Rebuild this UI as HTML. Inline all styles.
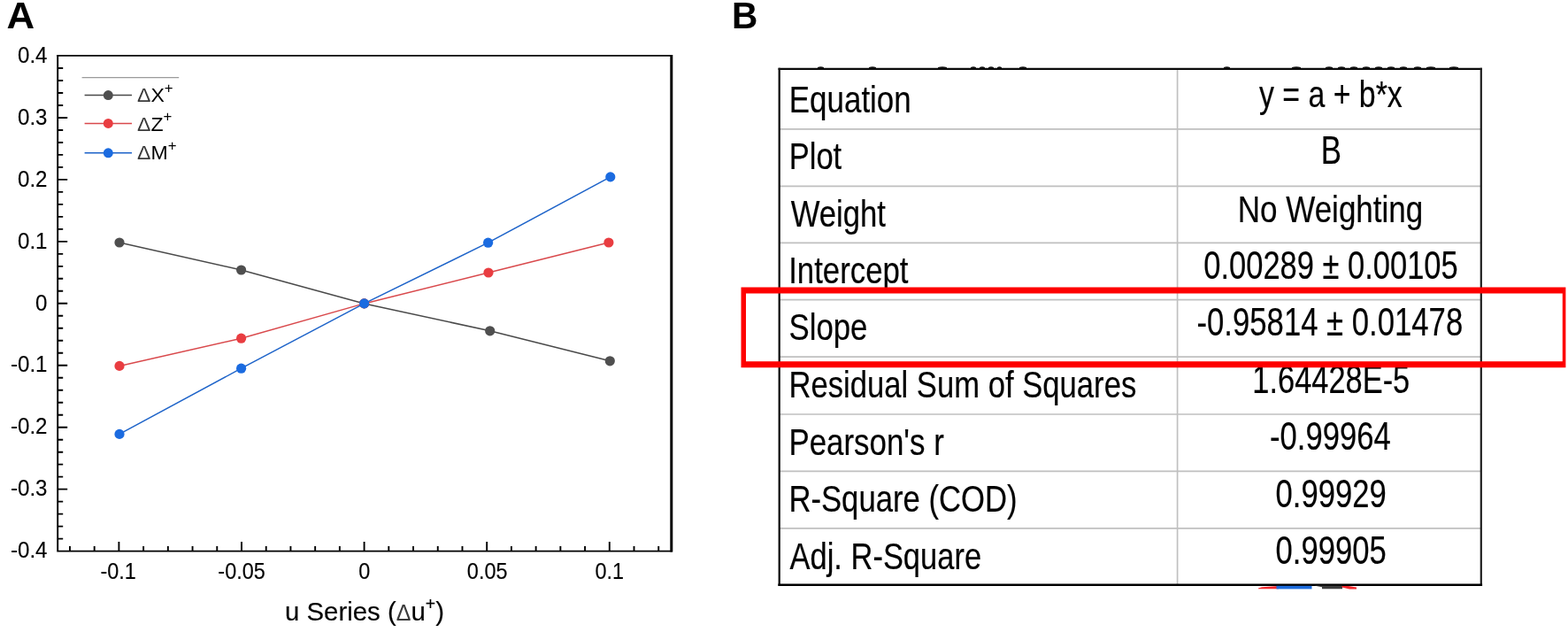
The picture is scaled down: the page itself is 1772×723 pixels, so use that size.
<!DOCTYPE html>
<html lang="en"><head><meta charset="utf-8"><title>Figure</title>
<style>html,body{margin:0;padding:0;background:#fff;}body{width:1772px;height:723px;overflow:hidden;}svg{display:block;}text{font-family:"Liberation Sans", Arial, Helvetica, sans-serif;fill:#000;}.bl{filter:blur(0.45px);}.bs{filter:blur(0.35px);}</style>
</head><body>
<svg width="1772" height="723" viewBox="0 0 1772 723">
<rect x="0" y="0" width="1772" height="723" fill="#fff"/>
<text transform="translate(7.6 31.8) scale(1.055 1.042)" font-size="41.5" font-weight="bold">A</text>
<text transform="translate(826.9 31.8) scale(0.99 1.053)" font-size="41" font-weight="bold">B</text>
<g stroke="#000" fill="none">
<path d="M65.20 62.90V622.60H758.80" stroke-width="1.9" stroke-linecap="square"/>
<path d="M65.20 62.90H758.80" stroke-width="1.9" stroke-linecap="square"/>
<path d="M758.80 61.95V623.55" stroke-width="3" stroke-linecap="butt"/>
<path d="M65.20 608.61h6M65.20 594.62h6M65.20 580.63h6M65.20 566.64h6M65.20 552.65h11M65.20 538.66h6M65.20 524.67h6M65.20 510.68h6M65.20 496.69h6M65.20 482.70h11M65.20 468.71h6M65.20 454.72h6M65.20 440.73h6M65.20 426.74h6M65.20 412.75h11M65.20 398.76h6M65.20 384.77h6M65.20 370.78h6M65.20 356.79h6M65.20 342.80h11M65.20 328.81h6M65.20 314.82h6M65.20 300.83h6M65.20 286.84h6M65.20 272.85h11M65.20 258.86h6M65.20 244.87h6M65.20 230.88h6M65.20 216.89h6M65.20 202.90h11M65.20 188.91h6M65.20 174.92h6M65.20 160.93h6M65.20 146.94h6M65.20 132.95h11M65.20 118.96h6M65.20 104.97h6M65.20 90.98h6M65.20 76.99h6M78.96 622.60v-5.5M106.68 622.60v-5.5M134.40 622.60v-10.5M162.12 622.60v-5.5M189.84 622.60v-5.5M217.56 622.60v-5.5M245.28 622.60v-5.5M273.00 622.60v-10.5M300.72 622.60v-5.5M328.44 622.60v-5.5M356.16 622.60v-5.5M383.88 622.60v-5.5M411.60 622.60v-10.5M439.32 622.60v-5.5M467.04 622.60v-5.5M494.76 622.60v-5.5M522.48 622.60v-5.5M550.20 622.60v-10.5M577.92 622.60v-5.5M605.64 622.60v-5.5M633.36 622.60v-5.5M661.08 622.60v-5.5M688.80 622.60v-10.5M716.52 622.60v-5.5M744.24 622.60v-5.5" stroke-width="1.9"/>
</g>
<g class="bs" font-size="26.2" stroke="#000" stroke-width="0.15">
<text transform="translate(53.5 630.30) scale(0.920 1)" text-anchor="end">-0.4</text>
<text transform="translate(53.5 560.35) scale(0.920 1)" text-anchor="end">-0.3</text>
<text transform="translate(53.5 490.40) scale(0.920 1)" text-anchor="end">-0.2</text>
<text transform="translate(53.5 420.45) scale(0.920 1)" text-anchor="end">-0.1</text>
<text transform="translate(53.5 350.50) scale(0.920 1)" text-anchor="end">0</text>
<text transform="translate(53.5 280.55) scale(0.920 1)" text-anchor="end">0.1</text>
<text transform="translate(53.5 210.60) scale(0.920 1)" text-anchor="end">0.2</text>
<text transform="translate(53.5 140.65) scale(0.920 1)" text-anchor="end">0.3</text>
<text transform="translate(53.5 70.70) scale(0.920 1)" text-anchor="end">0.4</text>
<text transform="translate(133.70 654.1) scale(0.895 1)" text-anchor="middle">-0.1</text>
<text transform="translate(273.05 654.1) scale(0.895 1)" text-anchor="middle">-0.05</text>
<text transform="translate(411.65 654.1) scale(0.895 1)" text-anchor="middle">0</text>
<text transform="translate(550.65 654.1) scale(0.895 1)" text-anchor="middle">0.05</text>
<text transform="translate(688.85 654.1) scale(0.895 1)" text-anchor="middle">0.1</text>
</g>
<text transform="translate(322 700.9) scale(1.0 1)" class="bs" font-size="29.4" stroke="#000" stroke-width="0.15">u Series (<tspan font-size="25" fill="#3a3a3a" stroke="none">Δ</tspan>u<tspan font-size="19.5" dy="-11.5">+</tspan><tspan dy="11.5">)</tspan></text>
<polyline fill="none" stroke="#4a4a4a" stroke-width="1.5" points="135.0,274.0 272.6,305.0 411.6,342.9 553.7,373.8 689.3,407.8"/>
<g fill="#4f4f4f"><circle cx="135.0" cy="274.0" r="5.6"/><circle cx="272.6" cy="305.0" r="5.6"/><circle cx="411.6" cy="342.9" r="5.6"/><circle cx="553.7" cy="373.8" r="5.6"/><circle cx="689.3" cy="407.8" r="5.6"/></g>
<polyline fill="none" stroke="#d9494c" stroke-width="1.5" points="135.0,413.4 272.6,382.2 411.6,342.9 552.0,308.0 687.9,274.0"/>
<g fill="#e93d41"><circle cx="135.0" cy="413.4" r="5.6"/><circle cx="272.6" cy="382.2" r="5.6"/><circle cx="411.6" cy="342.9" r="5.6"/><circle cx="552.0" cy="308.0" r="5.6"/><circle cx="687.9" cy="274.0" r="5.6"/></g>
<polyline fill="none" stroke="#1d63c9" stroke-width="1.5" points="135.0,490.4 272.6,416.2 411.6,342.9 551.6,274.2 689.8,199.9"/>
<g fill="#1b6be0"><circle cx="135.0" cy="490.4" r="5.6"/><circle cx="272.6" cy="416.2" r="5.6"/><circle cx="411.6" cy="342.9" r="5.6"/><circle cx="551.6" cy="274.2" r="5.6"/><circle cx="689.8" cy="199.9" r="5.6"/></g>
<line x1="92.6" y1="87.6" x2="202.2" y2="87.6" stroke="#9a9a9a" stroke-width="1.4"/>
<line x1="95.6" y1="107.6" x2="149" y2="107.6" stroke="#4a4a4a" stroke-width="1.5"/>
<circle cx="122.3" cy="107.6" r="5.5" fill="#4f4f4f"/>
<text class="bs" transform="translate(155 115.1) scale(1.05 1)" font-size="22"><tspan fill="#3a3a3a">Δ</tspan>X<tspan font-size="16" dy="-10.6">+</tspan></text>
<line x1="95.6" y1="139.4" x2="149" y2="139.4" stroke="#d9494c" stroke-width="1.5"/>
<circle cx="122.3" cy="139.4" r="5.5" fill="#e93d41"/>
<text class="bs" transform="translate(155 147.8) scale(1.05 1)" font-size="22"><tspan fill="#3a3a3a">Δ</tspan>Z<tspan font-size="16" dy="-10.6">+</tspan></text>
<line x1="95.6" y1="172.8" x2="149" y2="172.8" stroke="#1d63c9" stroke-width="1.5"/>
<circle cx="122.3" cy="172.8" r="5.5" fill="#1b6be0"/>
<text class="bs" transform="translate(155 180.2) scale(1.05 1)" font-size="22"><tspan fill="#3a3a3a">Δ</tspan>M<tspan font-size="16" dy="-10.6">+</tspan></text>
<g stroke="#c0c0c0" stroke-width="1.7" fill="none">
<path d="M880.7 145.8H1673.8M880.7 210.3H1673.8M880.7 274.4H1673.8M880.7 338.6H1673.8M880.7 403.1H1673.8M880.7 468.0H1673.8M880.7 532.4H1673.8M880.7 596.8H1673.8"/>
<path d="M1330.6 77.8V660.7"/>
</g>
<g fill="none" stroke-linecap="square">
<path d="M880.7 77.8H1673.8" stroke="#0a0a0a" stroke-width="2.2"/>
<path d="M880.7 77.8V660.7" stroke="#141414" stroke-width="2.3"/>
<path d="M1673.8 77.8V660.7" stroke="#1e1e1e" stroke-width="2.2"/>
<path d="M880.7 660.7H1673.8" stroke="#000" stroke-width="2.6"/>
</g>
<path fill="#111" d="M924 77.2v-1.3q3.5 -1.2 7 0v1.3zM982 77.2v-1.3q4.0 -1.2 8 0v1.3zM1060 77.2v-1.3q5.0 -1.2 10 0v1.3zM1097 77.2v-1.3q3.0 -1.2 6 0v1.3zM1107 77.2v-1.3q3.0 -1.2 6 0v1.3zM1117 77.2v-1.3q3.0 -1.2 6 0v1.3zM1127 77.2v-1.3q2.5 -1.2 5 0v1.3zM1152 77.2v-1.3q4.0 -1.2 8 0v1.3zM1383 77.2v-1.3q3.5 -1.2 7 0v1.3zM1460 77.2v-1.3q5.0 -1.2 10 0v1.3zM1498 77.2v-1.3q4.0 -1.2 8 0v1.3zM1512 77.2v-1.3q4.0 -1.2 8 0v1.3zM1526 77.2v-1.3q4.0 -1.2 8 0v1.3zM1540 77.2v-1.3q4.0 -1.2 8 0v1.3zM1554 77.2v-1.3q4.0 -1.2 8 0v1.3zM1568 77.2v-1.3q4.0 -1.2 8 0v1.3zM1582 77.2v-1.3q4.0 -1.2 8 0v1.3zM1598 77.2v-1.3q4.0 -1.2 8 0v1.3zM1612 77.2v-1.3q5.0 -1.2 10 0v1.3zM1638 77.2v-1.3q5.0 -1.2 10 0v1.3z"/>
<path fill="#f0262b" d="M1422 664.6L1426 663.2L1445 662V665.2H1422Z"/>
<rect x="1442.5" y="661.8" width="40" height="3.6" fill="#1c6bdc"/>
<path fill="#3c3c3c" d="M1485 661.6L1494 663.2V665.2H1517V661.8Z"/>
<path fill="#f0262b" d="M1516.5 662H1524L1533 663.6V665.4H1525L1516.5 663.6Z"/>
<g class="bl" font-size="43" stroke="#000" stroke-width="0.2">
<text id="t0" x="0" y="0" transform="translate(891.827 127.00) scale(0.8124 0.985)">Equation</text>
<text id="t1" x="0" y="0" transform="translate(891.707 191.40) scale(0.8031 0.985)">Plot</text>
<text id="t2" x="0" y="0" transform="translate(893.649 255.60) scale(0.8069 0.985)">Weight</text>
<text id="t3" x="0" y="0" transform="translate(891.196 319.60) scale(0.8090 0.985)">Intercept</text>
<text id="t4" x="0" y="0" transform="translate(891.573 384.00) scale(0.8081 0.985)">Slope</text>
<text id="t5" x="0" y="0" transform="translate(891.399 449.20) scale(0.8058 0.985)">Residual Sum of Squares</text>
<text id="t6" x="0" y="0" transform="translate(891.375 513.50) scale(0.8117 0.985)">Pearson&#39;s r</text>
<text id="t7" x="0" y="0" transform="translate(891.394 578.40) scale(0.8068 0.985)">R-Square (COD)</text>
<text id="t8" x="0" y="0" transform="translate(892.499 642.50) scale(0.8022 0.985)">Adj. R-Square</text>
<text id="t9" x="0" y="0" transform="translate(1422.999 120.50) scale(0.7871 0.980)">y = a + b*x</text>
<text id="t10" x="0" y="0" transform="translate(1492.683 185.20) scale(0.8094 1.030)">B</text>
<text id="t11" x="0" y="0" transform="translate(1398.770 250.50) scale(0.8140 0.990)">No Weighting</text>
<text id="t12" x="0" y="0" transform="translate(1360.277 315.00) scale(0.8024 1.035)">0.00289 ± 0.00105</text>
<text id="t13" x="0" y="0" transform="translate(1352.523 378.70) scale(0.8071 1.035)">-0.95814 ± 0.01478</text>
<text id="t14" x="0" y="0" transform="translate(1415.310 443.50) scale(0.8006 1.035)">1.64428E-5</text>
<text id="t15" x="0" y="0" transform="translate(1435.027 508.20) scale(0.8050 1.035)">-0.99964</text>
<text id="t16" x="0" y="0" transform="translate(1441.523 572.70) scale(0.8052 1.035)">0.99929</text>
<text id="t17" x="0" y="0" transform="translate(1441.523 637.00) scale(0.8052 1.035)">0.99905</text>
</g>
<path fill="#fe0000" fill-rule="evenodd" d="M837.5 324.4H1769.4V415.2H837.5ZM843 331.5V408.2H1765.8V331.5Z"/>
</svg>
</body></html>
